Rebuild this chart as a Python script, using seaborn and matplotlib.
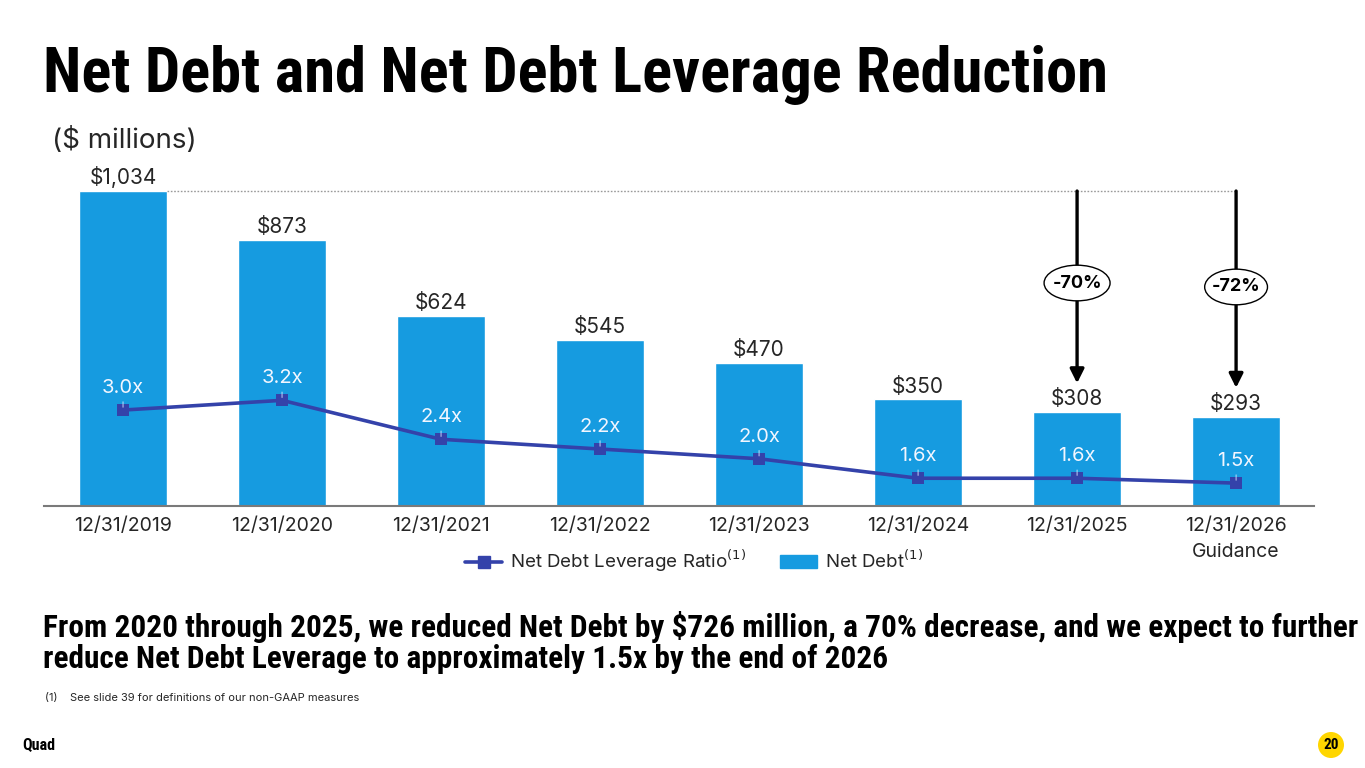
import numpy as np
import pandas as pd
import matplotlib
matplotlib.use("Agg")
import matplotlib.pyplot as plt
import seaborn as sns
from matplotlib.lines import Line2D
from matplotlib.patches import Patch, Circle, Ellipse

# ---------------- data ----------------
categories = ["12/31/2019", "12/31/2020", "12/31/2021", "12/31/2022",
              "12/31/2023", "12/31/2024", "12/31/2025", "12/31/2026"]
tick_labels = ["12/31/2019", "12/31/2020", "12/31/2021", "12/31/2022",
               "12/31/2023", "12/31/2024", "12/31/2025", "12/31/2026\nGuidance"]
net_debt = [1034, 873, 624, 545, 470, 350, 308, 293]
net_debt_labels = ["$1,034", "$873", "$624", "$545", "$470", "$350", "$308", "$293"]
leverage = [3.0, 3.2, 2.4, 2.2, 2.0, 1.6, 1.6, 1.5]
leverage_labels = ["3.0x", "3.2x", "2.4x", "2.2x", "2.0x", "1.6x", "1.6x", "1.5x"]
reduction_labels = ["-70%", "-72%"]
reduction_idx = [6, 7]

BAR = "#169be0"
LINE = "#3442aa"
TXT = "#262626"

sns.set_theme(style="white")
plt.rcParams["font.family"] = ["Inter", "DejaVu Sans"]
NARROW = ["Roboto Condensed", "DejaVu Sans"]

fig = plt.figure(figsize=(13.65, 7.68), dpi=100)
W, H = 1365, 768
def fx(px): return px / W
def fy(py): return 1 - py / H

ax = fig.add_axes([fx(44), fy(506), fx(1314) - fx(44), fy(170) - fy(506)])
df = pd.DataFrame({"date": categories, "debt": net_debt, "lev": leverage,
                   "pos": np.arange(len(categories))})

sns.barplot(data=df, x="date", y="debt", color=BAR, saturation=1,
            width=0.55, ax=ax)
ax.set_ylim(0, 1103)
ax.bar_label(ax.containers[0], labels=net_debt_labels, padding=2,
             fontsize=15, color=TXT)

ax2 = ax.twinx()
sns.lineplot(data=df, x="pos", y="lev", color=LINE, lw=2.6, marker="s",
             markersize=9, markeredgewidth=0, ax=ax2)
ax2.set_ylim(1.03, 7.93)
for i, (v, lab) in enumerate(zip(leverage, leverage_labels)):
    ax2.annotate(lab, (i, v), xytext=(0, 16), textcoords="offset points",
                 ha="center", va="center", fontsize=14.5, color="#f2f6ff")
    ax2.annotate("", (i, v), xytext=(0, 8), textcoords="offset points",
                 arrowprops=dict(arrowstyle="-", color="#dfe8ff", lw=0.6))

for a in (ax, ax2):
    for s in a.spines.values():
        s.set_visible(False)
    a.set_ylabel("")
    a.set_yticks([])
ax.spines["bottom"].set_visible(True)
ax.spines["bottom"].set_color("#7a7a7a")
ax.spines["bottom"].set_linewidth(1.5)
ax.set_xticks(range(len(categories)))
ax.set_xticklabels(tick_labels, fontsize=14, color=TXT, linespacing=1.55)
ax.tick_params(axis="x", length=0, pad=8)
ax.set_xlabel("")
ax2.set_xlabel("")
ax.set_xlim(-0.497, 7.49)

# dotted reference line and reduction arrows
ax.plot([0.275, 7], [net_debt[0], net_debt[0]], ls=(0, (1.2, 1.2)),
        color="#9a9a9a", lw=1.0)
for k, i in enumerate(reduction_idx):
    tip = net_debt[i] + 95
    ax.annotate("", xy=(i, tip), xytext=(i, net_debt[0]),
                arrowprops=dict(arrowstyle="-|>,head_width=0.35,head_length=0.7",
                                color="black", lw=2.4, shrinkA=0, shrinkB=0))
    yc = 732 - 13 * k
    ax.add_patch(Ellipse((i, yc), 0.415 - 0.02 * k, 117, facecolor="white",
                         edgecolor="black", lw=1, zorder=5))
    ax.text(i, yc, reduction_labels[k], ha="center", va="center",
            fontsize=13, fontweight="bold", color="black", zorder=6)

# legend
handles = [Line2D([0], [0], color=LINE, lw=2.6, marker="s", markersize=8),
           Patch(color=BAR)]
labels = [r"Net Debt Leverage Ratio$^{\mathrm{(1)}}$", r"Net Debt$^{\mathrm{(1)}}$"]
fig.legend(handles, labels, loc="center", bbox_to_anchor=(fx(694), fy(561)),
           ncol=2, frameon=False, fontsize=13.5, handlelength=2.0,
           columnspacing=1.8, handletextpad=0.4, labelcolor=TXT)

# texts
fig.text(fx(43), fy(92), "Net Debt and Net Debt Leverage Reduction",
         family=NARROW, fontstretch="condensed", fontweight="bold",
         fontsize=45, color="black", va="baseline", ha="left")
fig.text(fx(52), fy(140), "($ millions)", fontsize=20, color=TXT,
         va="center", ha="left")
fig.text(fx(43), fy(637),
         "From 2020 through 2025, we reduced Net Debt by $726 million, a 70% decrease, and we expect to further",
         family=NARROW, fontstretch="condensed", fontweight="bold",
         fontsize=22.5, color="black", va="baseline", ha="left")
fig.text(fx(43), fy(668),
         "reduce Net Debt Leverage to approximately 1.5x by the end of 2026",
         family=NARROW, fontstretch="condensed", fontweight="bold",
         fontsize=22.5, color="black", va="baseline", ha="left")
fig.text(fx(45), fy(698), "(1)    See slide 39 for definitions of our non-GAAP measures",
         fontsize=8, color=TXT, va="center", ha="left")
fig.text(fx(22), fy(745), "Quad", family=NARROW, fontstretch="condensed",
         fontweight="bold", fontsize=11.5, color="black", va="center", ha="left")
fig.patches.append(Circle((13.31, (768 - 745) / 100), 0.13,
                          transform=fig.dpi_scale_trans,
                          facecolor="#ffd600", edgecolor="none"))
fig.text(fx(1331), fy(745), "20", family=NARROW, fontstretch="condensed",
         fontweight="bold", fontsize=11, color="black", va="center", ha="center")

fig.savefig("out.png", dpi=100)
